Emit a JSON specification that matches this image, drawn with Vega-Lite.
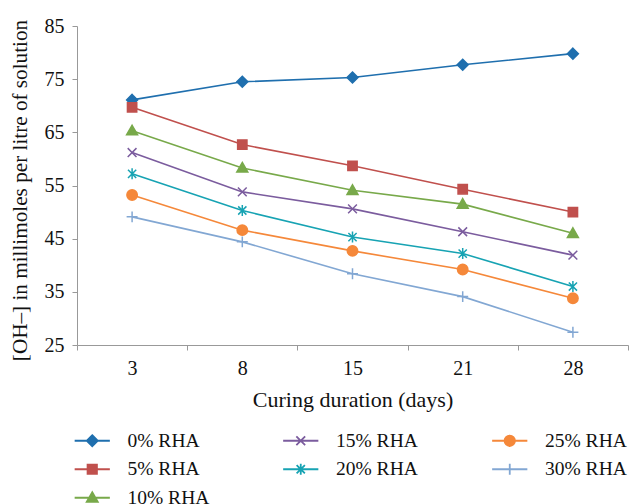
{
  "$schema": "https://vega.github.io/schema/vega-lite/v6.json",
  "width": 551,
  "height": 319,
  "autosize": "none",
  "padding": {"left": 77, "top": 26, "right": 2, "bottom": 159},
  "background": "white",
  "config": {
    "view": {"stroke": null},
    "font": "Liberation Serif",
    "axis": {"labelFont": "Liberation Serif", "titleFont": "Liberation Serif", "labelFontSize": 20, "titleFontSize": 22, "titleFontWeight": "normal", "labelColor": "#111", "titleColor": "#111", "domainColor": "#999", "tickColor": "#999", "grid": false},
    "legend": {"labelFont": "Liberation Serif", "labelFontSize": 19.5, "labelColor": "#111", "title": null, "orient": "none", "rowPadding": 7.5, "symbolSize": 121, "symbolStrokeWidth": 1.8, "labelOffset": 25.5, "legendY": 405}
  },
  "data": {"values": [
    {"day": "3", "pct": "0% RHA", "v": 71.1}, {"day": "8", "pct": "0% RHA", "v": 74.5}, {"day": "15", "pct": "0% RHA", "v": 75.3}, {"day": "21", "pct": "0% RHA", "v": 77.7}, {"day": "28", "pct": "0% RHA", "v": 79.8},
    {"day": "3", "pct": "5% RHA", "v": 69.7}, {"day": "8", "pct": "5% RHA", "v": 62.7}, {"day": "15", "pct": "5% RHA", "v": 58.7}, {"day": "21", "pct": "5% RHA", "v": 54.3}, {"day": "28", "pct": "5% RHA", "v": 50.0},
    {"day": "3", "pct": "10% RHA", "v": 65.3}, {"day": "8", "pct": "10% RHA", "v": 58.3}, {"day": "15", "pct": "10% RHA", "v": 54.1}, {"day": "21", "pct": "10% RHA", "v": 51.5}, {"day": "28", "pct": "10% RHA", "v": 46.0},
    {"day": "3", "pct": "15% RHA", "v": 61.2}, {"day": "8", "pct": "15% RHA", "v": 53.8}, {"day": "15", "pct": "15% RHA", "v": 50.6}, {"day": "21", "pct": "15% RHA", "v": 46.3}, {"day": "28", "pct": "15% RHA", "v": 41.9},
    {"day": "3", "pct": "20% RHA", "v": 57.2}, {"day": "8", "pct": "20% RHA", "v": 50.3}, {"day": "15", "pct": "20% RHA", "v": 45.3}, {"day": "21", "pct": "20% RHA", "v": 42.2}, {"day": "28", "pct": "20% RHA", "v": 36.0},
    {"day": "3", "pct": "25% RHA", "v": 53.2}, {"day": "8", "pct": "25% RHA", "v": 46.6}, {"day": "15", "pct": "25% RHA", "v": 42.7}, {"day": "21", "pct": "25% RHA", "v": 39.2}, {"day": "28", "pct": "25% RHA", "v": 33.8},
    {"day": "3", "pct": "30% RHA", "v": 49.1}, {"day": "8", "pct": "30% RHA", "v": 44.4}, {"day": "15", "pct": "30% RHA", "v": 38.4}, {"day": "21", "pct": "30% RHA", "v": 34.1}, {"day": "28", "pct": "30% RHA", "v": 27.4}
  ]},
  "encoding": {
    "x": {"field": "day", "type": "ordinal", "sort": ["3", "8", "15", "21", "28"],
      "scale": {"type": "band", "paddingInner": 0, "paddingOuter": 0},
      "axis": {"title": "Curing duration (days)", "labelAngle": 0, "tickBand": "extent", "tickSize": 5, "labelPadding": 8, "titlePadding": 11}},
    "y": {"field": "v", "type": "quantitative",
      "scale": {"domain": [25, 85], "nice": false, "zero": false},
      "axis": {"title": "[OH–] in millimoles per litre of solution", "titleFontSize": 21.2, "titleY": 164, "values": [25, 35, 45, 55, 65, 75, 85], "tickSize": 5, "labelPadding": 8, "titlePadding": 14}}
  },
  "layer": [
    {
      "mark": {"type": "line", "strokeWidth": 1.6},
      "encoding": {
        "color": {"field": "pct", "type": "nominal", "legend": null,
          "scale": {"domain": ["0% RHA", "5% RHA", "10% RHA", "15% RHA", "20% RHA", "25% RHA", "30% RHA"],
                    "range": ["#1f6fae", "#c0504d", "#78a94a", "#7b5c9e", "#17a3b3", "#f5883a", "#82a7d3"]}}
      }
    },
    {
      "mark": {"type": "point", "filled": true, "strokeWidth": 1.5, "opacity": 1},
      "encoding": {
        "color": {"field": "pct", "type": "nominal", "legend": null,
          "scale": {"domain": ["0% RHA", "5% RHA", "10% RHA", "15% RHA", "20% RHA", "25% RHA", "30% RHA"],
                    "range": ["#1f6fae", "#c0504d", "#78a94a", "#7b5c9e", "#17a3b3", "#f5883a", "#82a7d3"]}},
        "stroke": {"field": "pct", "type": "nominal", "legend": null,
          "scale": {"domain": ["0% RHA", "5% RHA", "10% RHA", "15% RHA", "20% RHA", "25% RHA", "30% RHA"],
                    "range": ["#1f6fae", "#c0504d", "#78a94a", "#7b5c9e", "#17a3b3", "#f5883a", "#82a7d3"]}},
        "shape": {"field": "pct", "type": "nominal", "legend": null,
          "scale": {"domain": ["0% RHA", "5% RHA", "10% RHA", "15% RHA", "20% RHA", "25% RHA", "30% RHA"],
                    "range": ["M0,-1L1,0L0,1L-1,0Z",
                              "M-0.85,-0.85L0.85,-0.85L0.85,0.85L-0.85,0.85Z",
                              "M0,-1L1,0.75L-1,0.75Z",
                              "M-0.8,-0.8L0.8,0.8M-0.8,0.8L0.8,-0.8",
                              "M-0.75,-0.75L0.75,0.75M-0.75,0.75L0.75,-0.75M0,-1L0,1",
                              "M-0.95,0A0.95,0.95,0,1,0,0.95,0A0.95,0.95,0,1,0,-0.95,0Z",
                              "M-1,0L1,0M0,-1L0,1"]}},
        "size": {"value": 120}
      }
    },
    {
      "transform": [{"filter": "datum.pct == 'none'"}],
      "mark": {"type": "point", "filled": true, "strokeWidth": 1.8, "opacity": 1},
      "encoding": {
        "color": {"field": "pct", "type": "nominal",
          "scale": {"domain": ["0% RHA", "5% RHA", "10% RHA"], "range": ["#1f6fae", "#c0504d", "#78a94a"]},
          "legend": {"legendX": 5.5, "values": ["0% RHA", "5% RHA", "10% RHA"]}},
        "stroke": {"field": "pct", "type": "nominal",
          "scale": {"domain": ["0% RHA", "5% RHA", "10% RHA"], "range": ["#1f6fae", "#c0504d", "#78a94a"]}},
        "shape": {"field": "pct", "type": "nominal",
          "scale": {"domain": ["0% RHA", "5% RHA", "10% RHA"],
                    "range": ["M-3.2,0L3.2,0M0,-1L1,0L0,1L-1,0Z",
                              "M-3.2,0L3.2,0M-0.85,-0.85L0.85,-0.85L0.85,0.85L-0.85,0.85Z",
                              "M-3.2,0L3.2,0M0,-1L1,0.75L-1,0.75Z"]}}
      }
    },
    {
      "transform": [{"filter": "datum.pct == 'none'"}],
      "mark": {"type": "point", "filled": true, "strokeWidth": 1.8, "opacity": 1},
      "encoding": {
        "color": {"field": "pct", "type": "nominal",
          "scale": {"domain": ["15% RHA", "20% RHA"], "range": ["#7b5c9e", "#17a3b3"]},
          "legend": {"legendX": 214, "values": ["15% RHA", "20% RHA"]}},
        "stroke": {"field": "pct", "type": "nominal",
          "scale": {"domain": ["15% RHA", "20% RHA"], "range": ["#7b5c9e", "#17a3b3"]}},
        "shape": {"field": "pct", "type": "nominal",
          "scale": {"domain": ["15% RHA", "20% RHA"],
                    "range": ["M-3.2,0L3.2,0M-0.8,-0.8L0.8,0.8M-0.8,0.8L0.8,-0.8",
                              "M-3.2,0L3.2,0M-0.75,-0.75L0.75,0.75M-0.75,0.75L0.75,-0.75M0,-1L0,1"]}}
      }
    },
    {
      "transform": [{"filter": "datum.pct == 'none'"}],
      "mark": {"type": "point", "filled": true, "strokeWidth": 1.8, "opacity": 1},
      "encoding": {
        "color": {"field": "pct", "type": "nominal",
          "scale": {"domain": ["25% RHA", "30% RHA"], "range": ["#f5883a", "#82a7d3"]},
          "legend": {"legendX": 423, "values": ["25% RHA", "30% RHA"]}},
        "stroke": {"field": "pct", "type": "nominal",
          "scale": {"domain": ["25% RHA", "30% RHA"], "range": ["#f5883a", "#82a7d3"]}},
        "shape": {"field": "pct", "type": "nominal",
          "scale": {"domain": ["25% RHA", "30% RHA"],
                    "range": ["M-3.2,0L3.2,0M-0.95,0A0.95,0.95,0,1,0,0.95,0A0.95,0.95,0,1,0,-0.95,0Z",
                              "M-3.2,0L3.2,0M0,-1L0,1"]}}
      }
    }
  ],
  "resolve": {"scale": {"color": "independent", "shape": "independent", "stroke": "independent"}, "legend": {"color": "independent", "shape": "independent", "stroke": "independent"}}
}
